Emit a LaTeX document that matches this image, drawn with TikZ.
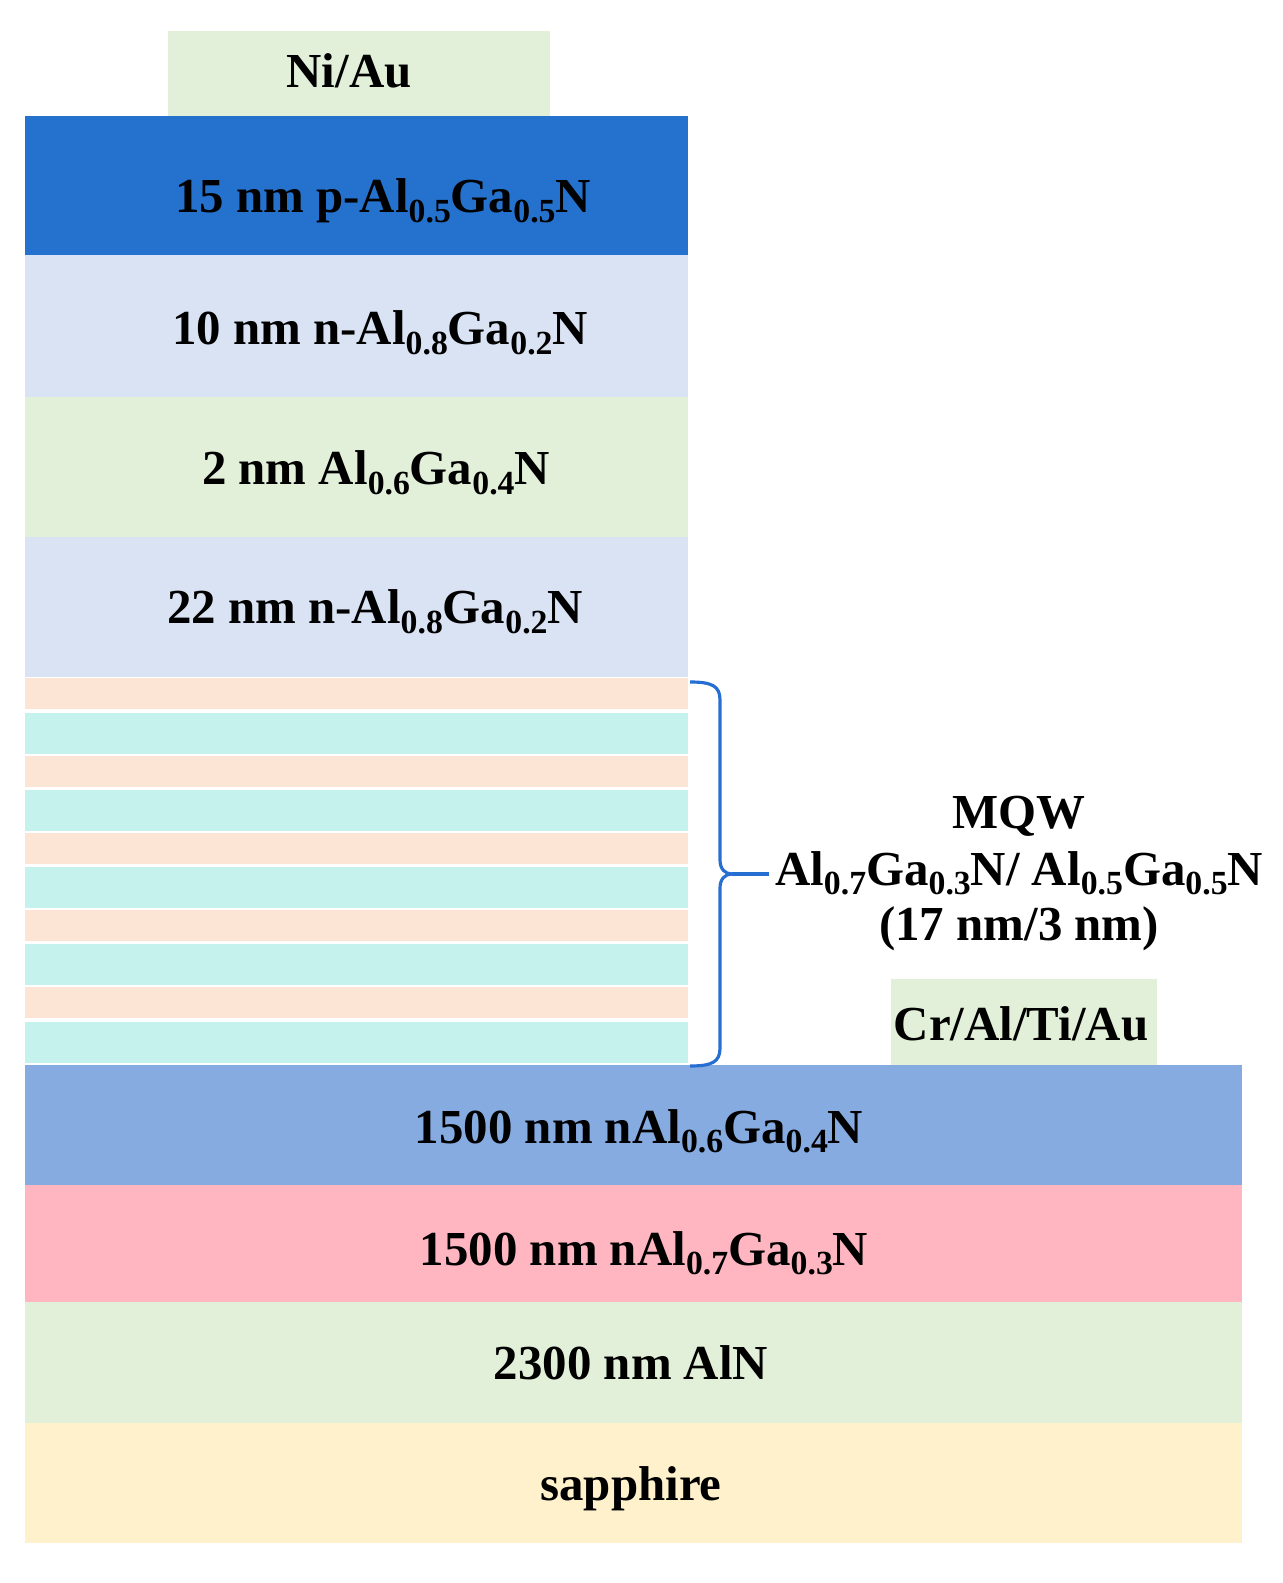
\documentclass[tikz,border=0pt]{standalone}
\usepackage{fontspec}
\setmainfont{Liberation Serif}

\definecolor{pdark}{RGB}{36,114,206}
\definecolor{lblue}{RGB}{218,227,243}
\definecolor{lgreen}{RGB}{226,240,217}
\definecolor{qwell}{RGB}{253,229,214}
\definecolor{qbarr}{RGB}{198,242,238}
\definecolor{nblue}{RGB}{133,171,225}
\definecolor{npink}{RGB}{255,182,193}
\definecolor{sand}{RGB}{255,241,204}
\definecolor{braceblue}{RGB}{38,110,210}

\newcommand{\ix}[1]{\raisebox{-2.6pt}{\fontsize{9.6}{9.6}\selectfont #1}}

\begin{document}
\begin{tikzpicture}[x=0.01cm,y=-0.01cm,
    txt/.style={anchor=base,font=\bfseries\fontsize{13.9}{16}\selectfont},
    brc/.style={draw=braceblue,line width=0.9pt}]
    \useasboundingbox (0,0) rectangle (1283,1583);

    \fill[lgreen] (168,31) rectangle (550,116);
    \fill[pdark] (25,116) rectangle (688,255);
    \fill[lblue] (25,255) rectangle (688,397);
    \fill[lgreen] (25,397) rectangle (688,537);
    \fill[lblue] (25,537) rectangle (688,677);
    \foreach \i in {0,...,4} {
        \fill[qwell] (25,678.3+77.25*\i) rectangle (688,709.3+77.25*\i);
        \fill[qbarr] (25,712.7+77.25*\i) rectangle (688,753.7+77.25*\i);
    }
    \fill[lgreen] (891,979) rectangle (1157,1065);
    \fill[nblue] (25,1065) rectangle (1242,1185);
    \fill[npink] (25,1185) rectangle (1242,1302);
    \fill[lgreen] (25,1302) rectangle (1242,1423);
    \fill[sand] (25,1423) rectangle (1242,1543);

    \node[txt] (pcon) at (349,88) {Ni/Au};
    \node[txt] (pgan) at (383,213) {15 nm p-Al\ix{0.5}Ga\ix{0.5}N};
    \node[txt] (nbar1) at (380,345) {10 nm n-Al\ix{0.8}Ga\ix{0.2}N};
    \node[txt] (spacer) at (376,485) {2 nm Al\ix{0.6}Ga\ix{0.4}N};
    \node[txt] (nbar2) at (375,624) {22 nm n-Al\ix{0.8}Ga\ix{0.2}N};
    \node[txt] (ncon) at (1021,1040) {Cr/Al/Ti/Au};
    \node[txt] (nbuf) at (639,1143) {1500 nm nAl\ix{0.6}Ga\ix{0.4}N};
    \node[txt] (nclad) at (644,1265) {1500 nm nAl\ix{0.7}Ga\ix{0.3}N};
    \node[txt] (aln) at (631,1379) {2300 nm AlN};
    \node[txt] (sapph) at (631,1500) {sapphire};

    \node[txt] (mqwtitle) at (1019,828) {MQW};
    \node[txt,inner xsep=1.5pt] (mqwcomp) at (1019,885) {Al\ix{0.7}Ga\ix{0.3}N/ Al\ix{0.5}Ga\ix{0.5}N};
    \node[txt] (mqwthick) at (1019,940) {(17 nm/3 nm)};

    \coordinate (btop) at (690,682);
    \coordinate (bbot) at (690,1066);
    \coordinate (btip) at (732,874);
    \draw[brc] (btop) .. controls (712,682) and (720,686) .. (720,700)
        -- (720,860) .. controls (720,869) and (725,874) .. (btip)
        .. controls (725,874) and (720,879) .. (720,888)
        -- (720,1048) .. controls (720,1062) and (712,1066) .. (bbot);
    \draw[brc] (btip) -- (btip -| mqwcomp.west);
\end{tikzpicture}
\end{document}
